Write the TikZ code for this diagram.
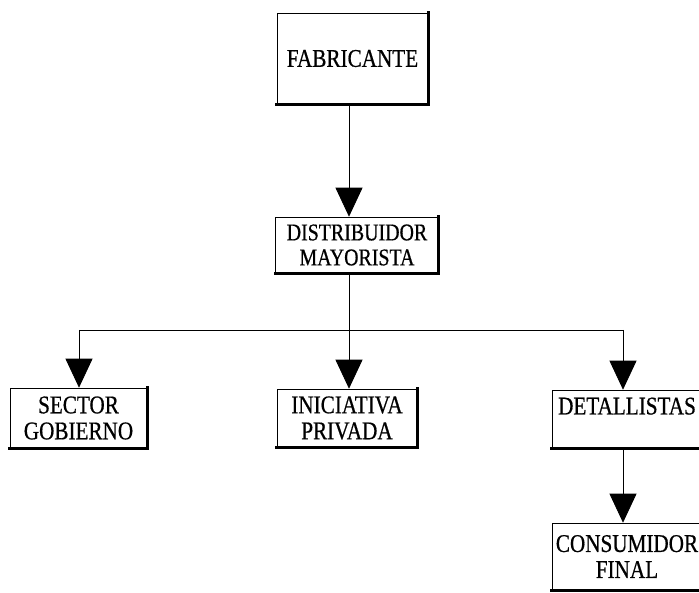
\documentclass[tikz,border=0pt]{standalone}
\usepackage{fontspec}
\setmainfont{Liberation Serif}[FakeBold=0.6, FakeStretch=0.83]
\usetikzlibrary{positioning,arrows.meta}

\begin{document}
\begin{tikzpicture}[x=1pt, y=-1pt,
  box/.style = {draw, line width=0.6pt, align=center, inner sep=0pt, font=\fontsize{25.5}{26}\selectfont},
  shadowline/.style = {line width=3.2pt, line cap=rect},
  conn/.style = {line width=0.8pt, -{Triangle[length=29pt, width=27pt]}}]
  \useasboundingbox (0,0) rectangle (699,593);
  % Nodes
  \node[box, minimum width=151pt, minimum height=91pt] (fab) at (352.5,58.5) {FABRICANTE};
  \node[box, minimum width=163pt, minimum height=56pt, font=\fontsize{24}{25}\selectfont] (dist) at (357,245) {DISTRIBUIDOR\\MAYORISTA};
  \node[box, minimum width=137pt, minimum height=60pt] (sector) at (78.5,418) {SECTOR\\GOBIERNO};
  \node[box, minimum width=140pt, minimum height=58pt] (inic) at (347,418) {INICIATIVA\\PRIVADA};
  \node[box, minimum width=150pt, minimum height=58pt] (det) at (627,419) {DETALLISTAS\\~};
  \node[box, minimum width=150pt, minimum height=67pt] (cons) at (627,556.5) {CONSUMIDOR\\FINAL};
  \foreach \n in {fab,dist,sector,inic,det,cons}
    \draw[shadowline] (\n.north east) -- (\n.south east) -- (\n.south west);
  % Edges
  \coordinate (jl) at (79,330);
  \coordinate (jm) at (349,330);
  \coordinate (jr) at (623,330);
  \draw[conn] (fab.south -| jm) -- (dist.north -| jm);
  \draw[line width=0.8pt] (dist.south -| jm) -- (jm);
  \draw[line width=0.8pt] (jl) -- (jr);
  \draw[conn] (jl) -- (sector.north -| jl);
  \draw[conn] (jm) -- (inic.north -| jm);
  \draw[conn] (jr) -- (det.north -| jr);
  \draw[conn] (det.south -| jr) -- (cons.north -| jr);
\end{tikzpicture}
\end{document}
